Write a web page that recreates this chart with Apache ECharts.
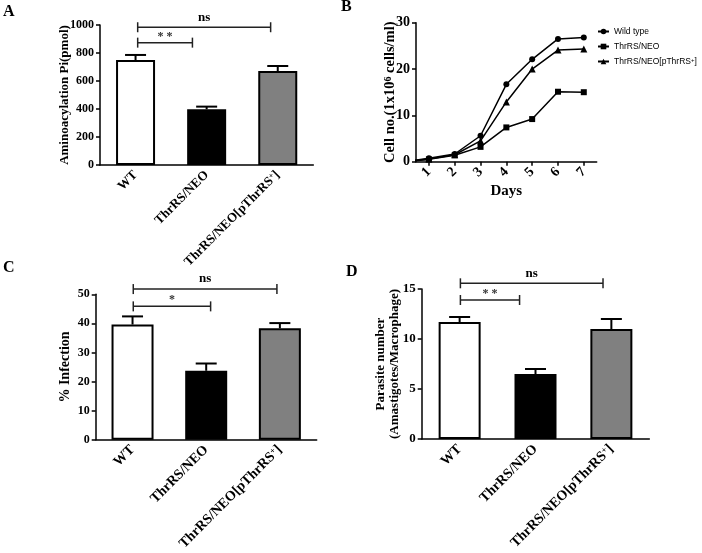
<!DOCTYPE html>
<html><head><meta charset="utf-8">
<script src="https://cdn.jsdelivr.net/npm/echarts@6/dist/echarts.min.js"></script>
<style>html,body{margin:0;padding:0;background:#fff}#c{width:702px;height:553px}</style>
</head><body><div id="c"></div>
<script>
// ---- data ----
const groups = ['WT', 'ThrRS/NEO', 'ThrRS/NEO[pThrRS+]'];
const aminoMean = [750, 398, 671];
const aminoUpper = [786, 417, 707];
const infectionMean = [39.6, 23.7, 38.3];
const infectionUpper = [42.4, 26.2, 40.1];
const parasiteMean = [11.7, 6.5, 11.0];
const parasiteUpper = [12.2, 7.0, 12.0];
const days = [0, 1, 2, 3, 4, 5, 6, 7];
const dayTicks = [1, 2, 3, 4, 5, 6, 7];
const wildType = [0, 0.73, 1.66, 5.6, 16.7, 22.1, 26.5, 26.8];
const thrNeo = [0, 0.5, 1.4, 3.2, 7.4, 9.2, 15.1, 15.0];
const thrRescue = [0, 0.6, 1.5, 4.5, 12.9, 20.0, 24.1, 24.3];
const growthNames = ['Wild type', 'ThrRS/NEO', 'ThrRS/NEO[pThrRS+]'];
const bracketsA = [{from: 0.03, to: 1.9, y: 984, text: 'ns'}, {from: 0.03, to: 0.8, y: 874, text: '* *'}];
const bracketsC = [{from: 0.01, to: 1.96, y: 51.8, text: 'ns'}, {from: 0.01, to: 1.06, y: 45.85, text: '*'}];
const bracketsD = [{from: 0.01, to: 1.89, y: 15.57, text: 'ns'}, {from: 0.01, to: 0.79, y: 13.9, text: '* *'}];
const barColors = ['#ffffff', '#000000', '#808080'];

// ---- styles ----
const SERIF = 'Liberation Serif';
const SANS = 'Liberation Sans';
function supRich(size) {
  return {
    sup: {fontFamily: SERIF, fontWeight: 'bold', fontSize: size, color: '#000', verticalAlign: 'top'},
    n: {fontFamily: SERIF, fontWeight: 'bold', fontSize: size + 5, color: '#000'}
  };
}
function catFormatter(v) {
  if (v === groups[2]) return '{n|ThrRS/NEO[pThrRS}{sup|+}{n|]}';
  return '{n|' + v + '}';
}
function catAxis(gi, fs) {
  return {
    type: 'category', gridIndex: gi, data: groups,
    axisLine: {lineStyle: {color: '#000', width: 1.5}},
    axisTick: {alignWithLabel: true, length: 4, lineStyle: {color: '#000', width: 1.5}},
    axisLabel: {interval: 0, rotate: 45, margin: 8, formatter: catFormatter, rich: supRich(fs - 5)}
  };
}
function valAxis(gi, max, interval, fs, name, nameGap, nameSize, extra) {
  return Object.assign({
    type: 'value', gridIndex: gi, min: 0, max: max, interval: interval,
    name: name, nameLocation: 'middle', nameGap: nameGap, nameMoveOverlap: false,
    nameTextStyle: {fontFamily: SERIF, fontWeight: 'bold', fontSize: nameSize, color: '#000'},
    axisLine: {show: true, lineStyle: {color: '#000', width: 1.5}},
    axisTick: {show: true, length: 4, lineStyle: {color: '#000', width: 1.5}},
    axisLabel: {fontFamily: SERIF, fontWeight: 'bold', fontSize: fs, color: '#000', margin: 6,
      formatter: function (v) { return String(v); }},
    splitLine: {show: false}
  }, extra || {});
}
function barSeries(gi, vals, bw) {
  return {
    type: 'bar', xAxisIndex: gi, yAxisIndex: gi, barWidth: bw, z: 3,
    data: vals.map((v, i) => ({value: v, itemStyle: {color: barColors[i], borderColor: '#000', borderWidth: 2}}))
  };
}
function errorRender(params, api) {
  const x = api.value(0);
  const p = api.coord([x, api.value(1)]);
  const q = api.coord([x, api.value(2)]);
  const hw = 10.5;
  return {type: 'group', children: [
    {type: 'line', shape: {x1: p[0], y1: p[1], x2: q[0], y2: q[1]}, style: {stroke: '#000', lineWidth: 2}},
    {type: 'line', shape: {x1: q[0] - hw, y1: q[1], x2: q[0] + hw, y2: q[1]}, style: {stroke: '#000', lineWidth: 2}}
  ]};
}
function errorSeries(gi, mean, upper) {
  return {type: 'custom', xAxisIndex: gi, yAxisIndex: gi, z: 2, renderItem: errorRender,
    data: mean.map((m, i) => [i, m, upper[i]])};
}
function bracketSeries(gi, list) {
  return {
    type: 'custom', xAxisIndex: gi, yAxisIndex: gi, z: 4, clip: false,
    data: list.map(b => [0, b.y]),
    renderItem: function (params, api) {
      const b = list[params.dataIndex];
      const base = api.coord([0, b.y]);
      const band = api.size([1, 0])[0];
      const x1 = base[0] + b.from * band, x2 = base[0] + b.to * band, y = base[1];
      const isNs = b.text === 'ns';
      return {type: 'group', children: [
        {type: 'line', shape: {x1: x1, y1: y, x2: x2, y2: y}, style: {stroke: '#222', lineWidth: 1.5}},
        {type: 'line', shape: {x1: x1, y1: y - 5, x2: x1, y2: y + 5}, style: {stroke: '#222', lineWidth: 1.5}},
        {type: 'line', shape: {x1: x2, y1: y - 5, x2: x2, y2: y + 5}, style: {stroke: '#222', lineWidth: 1.5}},
        {type: 'text', x: (x1 + x2) / 2, y: y - (isNs ? 10 : 6), style: {
          text: b.text, align: 'center', verticalAlign: 'middle',
          font: 'bold ' + (isNs ? 13 : 12) + 'px "' + SERIF + '"', fill: isNs ? '#000' : '#333'}}
      ]};
    }
  };
}
function lineSeries(name, vals, symbol, size) {
  return {
    type: 'line', name: name, xAxisIndex: 1, yAxisIndex: 1, clip: true,
    symbol: symbol, symbolSize: size, color: '#000',
    lineStyle: {color: '#000', width: 1.5}, itemStyle: {color: '#000'},
    data: days.map((d, i) => [d, vals[i]])
  };
}

const chart = echarts.init(document.getElementById('c'), null, {renderer: 'canvas'});
chart.setOption({
  animation: false,
  backgroundColor: '#fff',
  grid: [
    {left: 100, top: 25, width: 213.3, height: 140},
    {left: 416, top: 22.7, width: 180.7, height: 139},
    {left: 95.7, top: 294.3, width: 221, height: 147.2},
    {left: 421.7, top: 289, width: 227.6, height: 150}
  ],
  xAxis: [
    catAxis(0, 13),
    {
      type: 'value', gridIndex: 1, min: 0.5, max: 7.5,
      name: 'Days', nameLocation: 'middle', nameGap: 22, nameMoveOverlap: false,
      nameTextStyle: {fontFamily: SERIF, fontWeight: 'bold', fontSize: 15, color: '#000'},
      axisLine: {lineStyle: {color: '#000', width: 1.5}},
      axisTick: {show: true, length: 4, customValues: dayTicks, lineStyle: {color: '#000', width: 1.5}},
      axisLabel: {customValues: dayTicks, rotate: 45, margin: 8, fontFamily: SERIF, fontWeight: 'bold', fontSize: 14, color: '#000'},
      splitLine: {show: false}
    },
    catAxis(2, 14),
    catAxis(3, 14)
  ],
  yAxis: [
    valAxis(0, 1000, 200, 12, 'Aminoacylation Pi(pmol)', 29, 13),
    valAxis(1, 30, 10, 14, '{n|Cell no.(1x10}{sup|6}{n| cells/ml)}', 18, 14,
      {nameTextStyle: {rich: {
        n: {fontFamily: SERIF, fontWeight: 'bold', fontSize: 14.5, color: '#000'},
        sup: {fontFamily: SERIF, fontWeight: 'bold', fontSize: 10, color: '#000', verticalAlign: 'top'}}}}),
    valAxis(2, 50, 10, 12, '% Infection', 23, 14),
    valAxis(3, 15, 5, 13, 'Parasite number\n(Amastigotes/Macrophage)', 20, 13,
      {nameTextStyle: {fontFamily: SERIF, fontWeight: 'bold', fontSize: 13, color: '#000', lineHeight: 14}})
  ],
  legend: {
    left: 597, top: 27, orient: 'vertical', padding: 0, itemWidth: 11, itemHeight: 7, itemGap: 6,
    data: growthNames,
    formatter: function (n) { return n === growthNames[2] ? '{t|ThrRS/NEO[pThrRS}{s|+}{t|]}' : '{t|' + n + '}'; },
    textStyle: {fontFamily: SANS, fontSize: 8.5, color: '#000', rich: {
      t: {fontFamily: SANS, fontSize: 8.5, color: '#000'},
      s: {fontFamily: SANS, fontSize: 6, color: '#000', verticalAlign: 'top'}}}
  },
  graphic: [
    {type: 'text', left: 3, top: 4, style: {text: 'A', font: 'bold 16px "Liberation Serif"', fill: '#000'}},
    {type: 'text', left: 341, top: -1, style: {text: 'B', font: 'bold 16px "Liberation Serif"', fill: '#000'}},
    {type: 'text', left: 3, top: 260, style: {text: 'C', font: 'bold 16px "Liberation Serif"', fill: '#000'}},
    {type: 'text', left: 346, top: 264, style: {text: 'D', font: 'bold 16px "Liberation Serif"', fill: '#000'}}
  ],
  series: [
    barSeries(0, aminoMean, 39), errorSeries(0, aminoMean, aminoUpper), bracketSeries(0, bracketsA),
    lineSeries(growthNames[0], wildType, 'circle', 6),
    lineSeries(growthNames[1], thrNeo, 'rect', 6),
    lineSeries(growthNames[2], thrRescue, 'triangle', 7),
    barSeries(2, infectionMean, 42), errorSeries(2, infectionMean, infectionUpper), bracketSeries(2, bracketsC),
    barSeries(3, parasiteMean, 42), errorSeries(3, parasiteMean, parasiteUpper), bracketSeries(3, bracketsD)
  ]
});
</script></body></html>
